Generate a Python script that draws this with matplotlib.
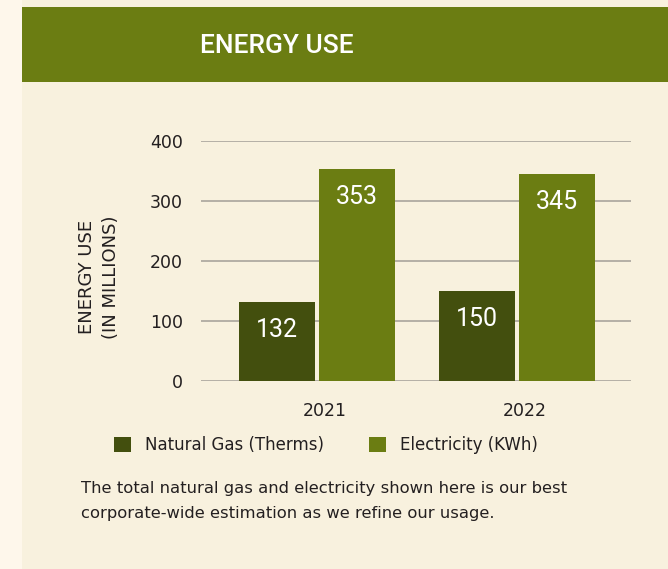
import matplotlib.pyplot as plt
import numpy as np

# datos
years = ["2021", "2022"]
natural_gas = [132, 150]
electricity = [353, 345]
series_names = ["Natural Gas (Therms)", "Electricity (KWh)"]
y_ticks = [0, 100, 200, 300, 400]

color_gas = "#434F0E"
color_elec = "#6B7D12"
color_header = "#6B7D12"
color_panel = "#F8F1DE"
color_outer = "#FEF7EB"
color_text = "#231F20"

W, H = 668, 569
fig = plt.figure(figsize=(W / 100, H / 100), dpi=100)
fig.patch.set_facecolor(color_outer)

# panel y cabecera
panel = plt.Rectangle((22 / W, 0), 1 - 22 / W, 1, transform=fig.transFigure,
                      facecolor=color_panel, edgecolor="none", zorder=-3)
header = plt.Rectangle((22 / W, 1 - 82 / H), 1 - 22 / W, 75 / H,
                       transform=fig.transFigure, facecolor=color_header,
                       edgecolor="none", zorder=-2)
fig.patches.extend([panel, header])

narrow = ["Roboto", "DejaVu Sans"]
fig.text(277 / W, 1 - 46 / H, "ENERGY USE", family=narrow, fontsize=19,
         fontweight="medium", color="white", ha="center", va="center")

ax = fig.add_axes([201 / W, 1 - 381 / H, 430 / W, 240 / H])
ax.set_facecolor("none")

x = np.arange(len(years))
ancho = 0.38
b1 = ax.bar(x - 0.2, natural_gas, ancho, color=color_gas, zorder=3,
            label=series_names[0])
b2 = ax.bar(x + 0.2, electricity, ancho, color=color_elec, zorder=3,
            label=series_names[1])

for barras in (b1, b2):
    for rect in barras:
        ax.annotate(f"{rect.get_height():.0f}",
                    xy=(rect.get_x() + rect.get_width() / 2, rect.get_height()),
                    xytext=(0, -20), textcoords="offset points",
                    ha="center", va="center", color="white",
                    family=narrow, fontsize=18, zorder=4)

ax.set_xlim(-0.5775, 1.5725)
ax.set_ylim(0, 400)
ax.set_yticks(y_ticks)
ax.set_xticks(x + 0.04)
ax.set_xticklabels(years)
ax.yaxis.grid(True, color="#A39E97", linewidth=1.1, zorder=1)
ax.tick_params(length=0, labelsize=12.5, colors=color_text)
ax.tick_params(axis="y", pad=13)
ax.tick_params(axis="x", pad=15)
for s in ax.spines.values():
    s.set_visible(False)

fig.text(99 / W, 1 - 277 / H, "ENERGY USE\n(IN MILLIONS)", rotation=90,
         ha="center", va="center", fontsize=13, color=color_text,
         linespacing=1.5)

fig.legend(handles=[b1, b2], labels=series_names, loc="center left",
           bbox_to_anchor=(114 / W, 1 - 445 / H), ncol=2, frameon=False,
           fontsize=12, handlelength=1.0, handleheight=1.0,
           handletextpad=0.85, columnspacing=2.7, borderpad=0,
           borderaxespad=0, labelcolor=color_text)

fig.text(81 / W, 1 - 501 / H,
         "The total natural gas and electricity shown here is our best\n"
         "corporate-wide estimation as we refine our usage.",
         ha="left", va="center", fontsize=11.8, color=color_text,
         linespacing=1.85)

plt.savefig("out.png", dpi=100, facecolor=fig.get_facecolor())
